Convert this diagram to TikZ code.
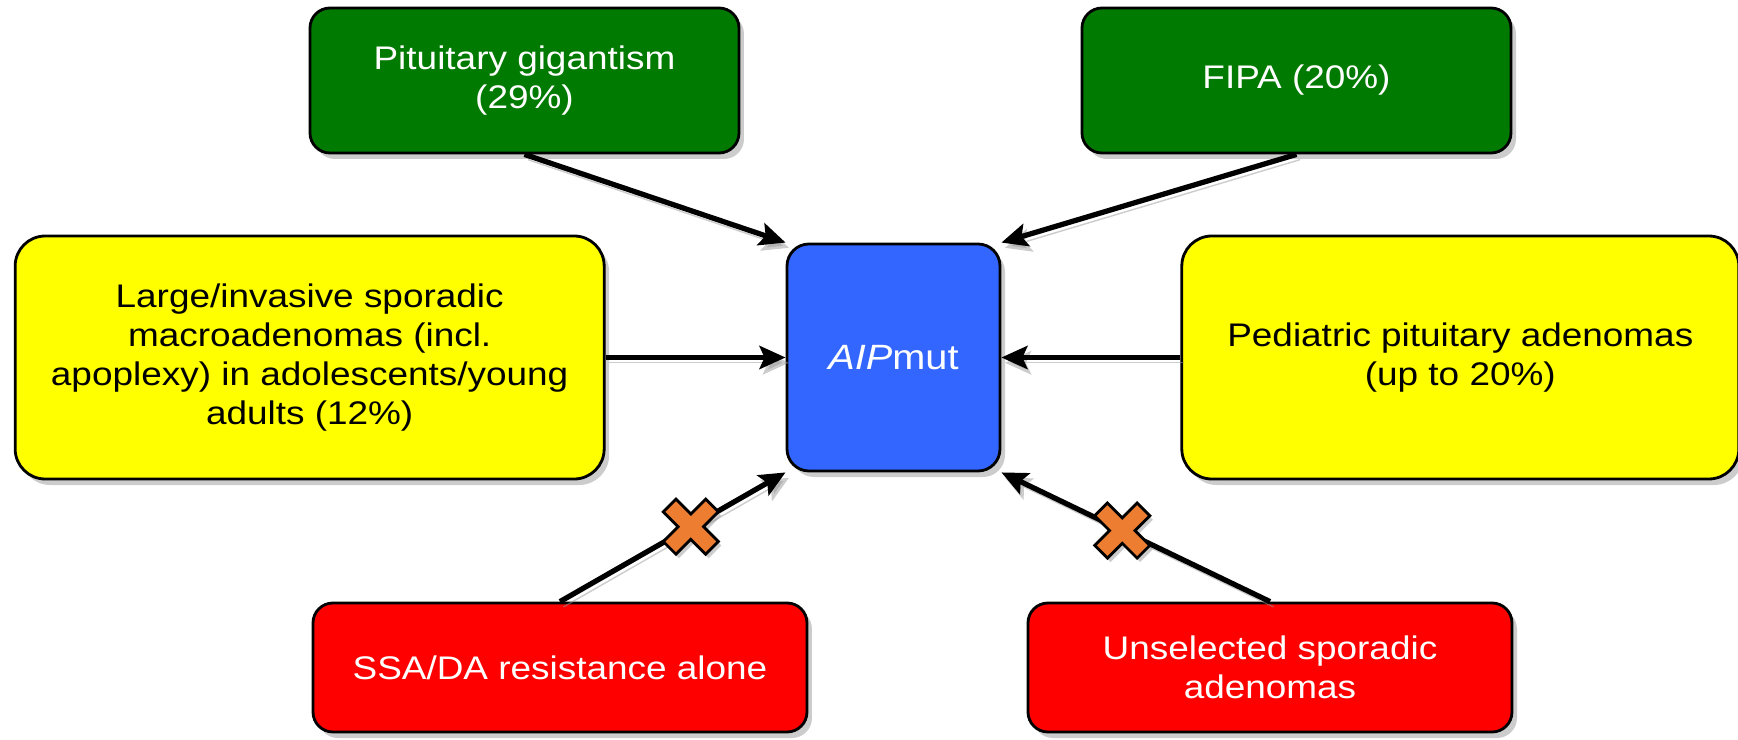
\documentclass[tikz,border=0pt]{standalone}
\usepackage{fontspec}
\setmainfont[FakeStretch=1.13]{Liberation Sans}
\usetikzlibrary{arrows.meta,shadows,positioning}

\definecolor{boxgreen}{RGB}{0,122,0}
\definecolor{boxyellow}{RGB}{255,255,0}
\definecolor{boxblue}{RGB}{51,102,255}
\definecolor{boxred}{RGB}{255,0,0}
\definecolor{xorange}{RGB}{237,125,49}

\begin{document}
\begin{tikzpicture}[
    font=\fontsize{9.3}{11.1}\selectfont,
    card/.style={rectangle, rounded corners=0.2cm, draw, line width=0.8pt, align=center, inner sep=2pt,
      drop shadow={shadow xshift=0.05cm, shadow yshift=-0.06cm, opacity=0.4}},
    good/.style={card, fill=boxgreen, text=white, minimum width=4.29cm, minimum height=1.45cm},
    maybe/.style={card, fill=boxyellow, rounded corners=0.3cm, minimum height=2.43cm},
    bad/.style={card, fill=boxred, text=white, minimum height=1.29cm},
    arr/.style={line width=1.5pt, -{Stealth[length=2.6mm,width=2.3mm,inset=0.5mm]},
      preaction={draw=black!40, opacity=0.5, transform canvas={xshift=1pt, yshift=-1.5pt}}},
    nogo/.pic={
      \draw[fill=xorange, line width=0.8pt, rotate=45,
        drop shadow={shadow xshift=0.03cm, shadow yshift=-0.04cm, opacity=0.4}]
        (0.09,0.3) -- (0.09,0.09) -- (0.3,0.09) -- (0.3,-0.09) -- (0.09,-0.09) -- (0.09,-0.3)
        -- (-0.09,-0.3) -- (-0.09,-0.09) -- (-0.3,-0.09) -- (-0.3,0.09) -- (-0.09,0.09) -- (-0.09,0.3) -- cycle;
    }
  ]
  \useasboundingbox (-8.935,-3.815) rectangle (8.445,3.575);

  \node[card, rounded corners=0.22cm, fill=boxblue, text=white, minimum width=2.13cm, minimum height=2.27cm,
    font=\fontsize{10}{12}\selectfont] (mut) at (0,0) {\textit{AIP}mut};
  \node[maybe, minimum width=5.89cm, left=1.8cm of mut] (young) {Large/invasive sporadic\\macroadenomas (incl.\\apoplexy) in adolescents/young\\adults (12\%)};
  \node[maybe, minimum width=5.57cm, right=1.79cm of mut] (pediatric) {Pediatric pituitary adenomas\\(up to 20\%)};
  \node[good] (gigantism) at (-3.69,2.77) {Pituitary gigantism\\(29\%)};
  \node[good] (fipa) at (4.03,2.77) {FIPA (20\%)};
  \node[bad, minimum width=4.94cm] (ssa) at (-3.335,-3.10) {SSA/DA resistance alone};
  \node[bad, minimum width=4.84cm] (unselected) at (3.765,-3.10) {Unselected sporadic\\adenomas};

  \draw[arr] (gigantism.south) -- (mut.north west);
  \draw[arr] (fipa.south) -- (mut.north east);
  \draw[arr] (young.east) -- (mut.west);
  \draw[arr] (pediatric.west) -- (mut.east);
  \draw[arr] (ssa.north) -- coordinate[pos=0.58] (ssax) (mut.south west);
  \draw[arr] (unselected.north) -- coordinate[pos=0.55] (unselx) (mut.south east);
  \pic at (ssax) {nogo};
  \pic at (unselx) {nogo};
\end{tikzpicture}
\end{document}
